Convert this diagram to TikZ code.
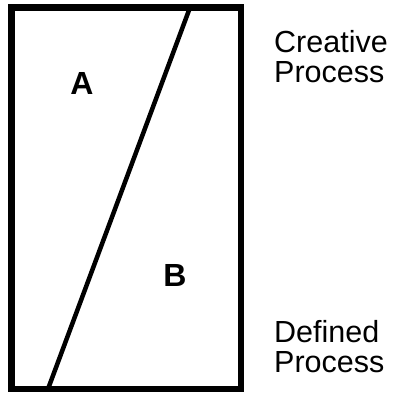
\documentclass[tikz,border=0pt]{standalone}
\usepackage{fontspec}
\setmainfont{Liberation Sans}
\begin{document}
\begin{tikzpicture}[x=1pt,y=-1pt,
  lbl/.style={font=\fontsize{30.5}{30}\selectfont, align=left, inner sep=0pt, anchor=north west},
  big/.style={font=\fontsize{32}{32}\bfseries\selectfont, inner sep=0pt}]
\useasboundingbox (0,0) rectangle (396,392);
\draw[line width=6.5pt] (11.5,7.5) rectangle (241,389);
\coordinate (t) at (190,7.5);
\coordinate (b) at (48,389);
\draw[line width=4.5pt] (t) -- (b);
\node[big] (A) at (82,83) {A};
\node[big] (B) at (175,275) {B};
\node[lbl] (cp) at (274,30) {Creative\\Process};
\node[lbl] (dp) at (274,320) {Defined\\Process};
\end{tikzpicture}
\end{document}
